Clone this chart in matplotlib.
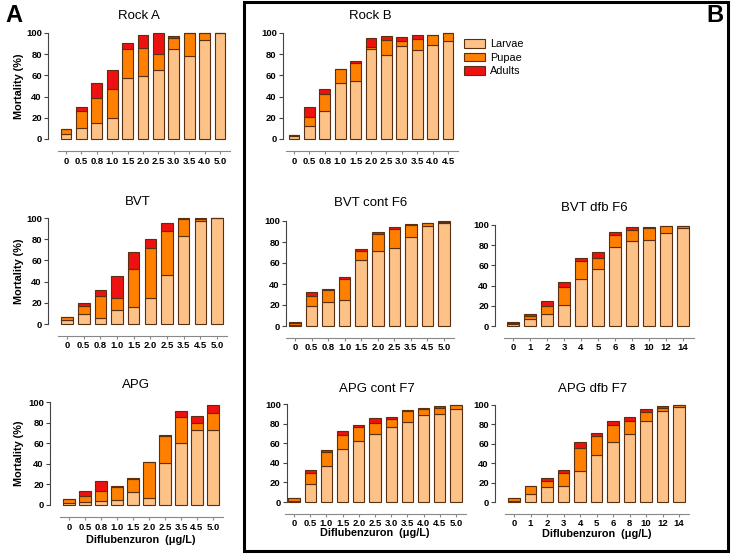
import matplotlib
matplotlib.use("Agg")
import matplotlib.pyplot as plt
from matplotlib.patches import Rectangle, Patch
import numpy as np

plt.rcParams['font.family'] = ['Liberation Sans', 'DejaVu Sans']

W, H = 733, 554

# ---- data (percent mortality per stage) ----
rockA_doses = ['0', '0.5', '0.8', '1.0', '1.5', '2.0', '2.5', '3.0', '3.5', '4.0', '5.0']
rockA_larvae = [5, 10, 15, 20, 58, 59, 65, 85, 78, 93, 100]
rockA_pupae = [4, 16, 24, 27, 27, 27, 15, 10, 22, 7, 0]
rockA_adults = [0, 4, 14, 18, 6, 12, 20, 2, 0, 0, 0]

bvt_doses = ['0', '0.5', '0.8', '1.0', '1.5', '2.0', '2.5', '3.5', '4.5', '5.0']
bvt_larvae = [4, 9, 6, 13, 16, 25, 46, 83, 97, 100]
bvt_pupae = [3, 8, 20, 12, 36, 47, 42, 16, 2, 0]
bvt_adults = [0, 3, 6, 20, 16, 8, 7, 1, 1, 0]

apg_doses = ['0', '0.5', '0.8', '1.0', '1.5', '2.0', '2.5', '3.5', '4.5', '5.0']
apg_larvae = [2, 3, 4, 5, 13, 7, 41, 60, 73, 73]
apg_pupae = [4, 6, 10, 12, 12, 35, 26, 25, 7, 16]
apg_adults = [0, 5, 9, 1, 1, 0, 1, 6, 6, 8]

rockB_doses = ['0', '0.5', '0.8', '1.0', '1.5', '2.0', '2.5', '3.0', '3.5', '4.0', '4.5']
rockB_larvae = [3, 12, 26, 53, 55, 85, 79, 88, 84, 89, 92]
rockB_pupae = [1, 9, 16, 13, 17, 2, 14, 4, 10, 9, 8]
rockB_adults = [0, 9, 5, 0, 2, 8, 4, 4, 4, 0, 0]

bvtc_doses = ['0', '0.5', '0.8', '1.0', '1.5', '2.0', '2.5', '3.5', '4.5', '5.0']
bvtc_larvae = [1, 19, 23, 25, 63, 71, 74, 85, 95, 98]
bvtc_pupae = [2, 10, 11, 20, 8, 17, 18, 11, 3, 1.5]
bvtc_adults = [1, 3, 1, 2, 2, 2, 2, 1, 0, 0.5]

bvtd_doses = ['0', '1', '2', '3', '4', '5', '6', '8', '10', '12', '14']
bvtd_larvae = [2, 7, 12, 21, 47, 56, 78, 84, 85, 92, 97]
bvtd_pupae = [1, 3, 8, 18, 17, 11, 12, 11, 12, 7, 2]
bvtd_adults = [1, 2, 5, 5, 3, 6, 3, 3, 1, 0.5, 0]

apgc_doses = ['0', '0.5', '1.0', '1.5', '2.0', '2.5', '3.0', '3.5', '4.0', '4.5', '5.0']
apgc_larvae = [1, 18, 37, 54, 62, 69, 77, 82, 89, 90, 95]
apgc_pupae = [3, 12, 14, 14, 15, 12, 8, 11, 6, 6, 4]
apgc_adults = [0, 3, 2, 4, 2, 5, 2, 1, 1, 2, 0]

apgd_doses = ['0', '1', '2', '3', '4', '5', '6', '8', '10', '12', '14']
apgd_larvae = [1, 8, 15, 17, 32, 48, 62, 70, 83, 94, 98]
apgd_pupae = [3, 8, 7, 13, 24, 20, 17, 13, 10, 3, 1.5]
apgd_adults = [0, 1, 3, 3, 6, 3, 4, 5, 3, 2, 0.5]

c_larvae = '#FDC287'
c_pupae = '#FF8000'
c_adults = '#EE1111'
edge = '#5a3010'

fig = plt.figure(figsize=(W / 100, H / 100), dpi=100)


def fx(px):
    return px / W


def fy(py):
    return 1 - py / H


def panel(title, doses, larvae, pupae, adults, left, first, last, top, bottom,
          title_y, ylabel=False, xlabel_y=None):
    n = len(doses)
    s = (last - first) / (n - 1)
    right = last + 0.62 * s
    ax = fig.add_axes([fx(left), fy(bottom), (right - left) / W, (bottom - top) / H])
    x = np.arange(n)
    larvae = np.array(larvae, float)
    pupae = np.array(pupae, float)
    adults = np.array(adults, float)
    kw = dict(width=0.7, edgecolor=edge, linewidth=0.8, clip_on=False)
    ax.bar(x, larvae, color=c_larvae, **kw)
    ax.bar(x, pupae, bottom=larvae, color=c_pupae, **kw)
    ax.bar(x, adults, bottom=larvae + pupae, color=c_adults, **kw)
    ax.set_xlim(-(first - left) / s, (n - 1) + (right - last) / s)
    ax.set_ylim(0, 100)
    ax.set_yticks([0, 20, 40, 60, 80, 100])
    ax.set_xticks(x)
    ax.set_xticklabels(doses)
    for sp in ['top', 'right']:
        ax.spines[sp].set_visible(False)
    ax.spines['left'].set_bounds(0, 100)
    ax.spines['bottom'].set_position(('outward', 8.6))
    ax.spines['bottom'].set_bounds(-0.55, (n - 1) + (right - last) / s)
    ax.spines['left'].set_color('#444444')
    ax.spines['bottom'].set_color('#888888')
    ax.tick_params(axis='y', length=3, width=0.8, color='#444444', pad=1.5,
                   labelsize=6.8)
    ax.tick_params(axis='x', length=2.5, width=0.8, color='#888888', pad=1.5,
                   labelsize=6.8)
    for lab in ax.get_xticklabels() + ax.get_yticklabels():
        lab.set_fontweight('bold')
    fig.text(fx((left + right) / 2), fy(title_y), title, ha='center',
             va='center', fontsize=9.5)
    if ylabel:
        fig.text(fx(19), fy((top + bottom) / 2), 'Mortality (%)', rotation=90,
                 ha='center', va='center', fontsize=7.8, fontweight='bold')
    if xlabel_y is not None:
        fig.text(fx((first + last) / 2), fy(xlabel_y), 'Diflubenzuron  (\u03bcg/L)',
                 ha='center', va='center', fontsize=7.8, fontweight='bold')
    return ax


panel('Rock A', rockA_doses, rockA_larvae, rockA_pupae, rockA_adults,
      48, 66, 220, 33, 139, 16, ylabel=True)
panel('BVT', bvt_doses, bvt_larvae, bvt_pupae, bvt_adults,
      48, 67, 217, 218, 324, 202, ylabel=True)
panel('APG', apg_doses, apg_larvae, apg_pupae, apg_adults,
      50, 69, 213, 402, 505, 385, ylabel=True, xlabel_y=540)
panel('Rock B', rockB_doses, rockB_larvae, rockB_pupae, rockB_adults,
      283, 294, 448, 33, 139, 16)
panel('BVT cont F6', bvtc_doses, bvtc_larvae, bvtc_pupae, bvtc_adults,
      286, 295, 444, 221, 326, 203)
panel('BVT dfb F6', bvtd_doses, bvtd_larvae, bvtd_pupae, bvtd_adults,
      495, 513, 683, 225, 326, 208)
panel('APG cont F7', apgc_doses, apgc_larvae, apgc_pupae, apgc_adults,
      287, 294, 456, 404, 502, 389, xlabel_y=533)
panel('APG dfb F7', apgd_doses, apgd_larvae, apgd_pupae, apgd_adults,
      495, 514, 679, 405, 502, 389, xlabel_y=534)

handles = [Patch(facecolor=c, edgecolor=edge, linewidth=0.8)
           for c in (c_larvae, c_pupae, c_adults)]
fig.legend(handles, ['Larvae', 'Pupae', 'Adults'], loc='upper left',
           bbox_to_anchor=(fx(460), fy(35)), frameon=False, fontsize=7.8,
           handlelength=1.9, handleheight=0.85, labelspacing=0.3,
           handletextpad=0.5, borderaxespad=0)

fig.add_artist(Rectangle((fx(244), fy(551)), fx(728) - fx(244), fy(2) - fy(551),
                         transform=fig.transFigure, fill=False,
                         edgecolor='black', linewidth=2.2))
fig.text(fx(14), fy(16), 'A', fontsize=17, fontweight='bold', ha='center', va='center')
fig.text(fx(715), fy(16), 'B', fontsize=17, fontweight='bold', ha='center', va='center')

fig.savefig('out.png', dpi=100)
